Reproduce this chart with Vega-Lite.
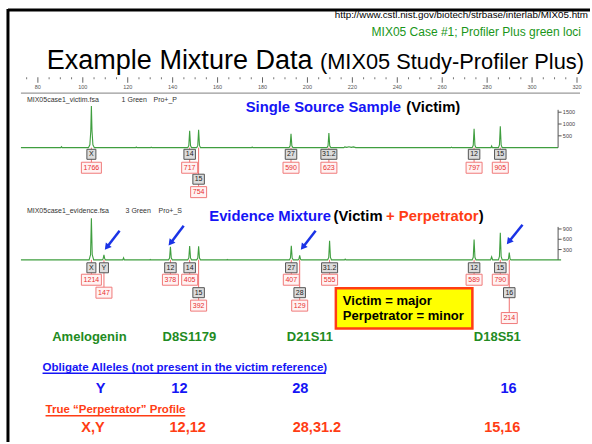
{
  "$schema": "https://vega.github.io/schema/vega-lite/v6.json",
  "width": 592,
  "height": 444,
  "autosize": {"type": "fit", "contains": "padding"},
  "padding": 0,
  "background": "white",
  "config": {"view": {"stroke": null}, "font": "Liberation Sans", "mark": {"font": "Liberation Sans"}, "text": {"font": "Liberation Sans"}},
  "datasets": {
    "lines": [
      {"kind": "border", "bp": 66.69, "bp2": 325.79, "row": 10, "row2": 10},
      {"kind": "border", "bp": 66.69, "bp2": 66.69, "row": 9, "row2": 444},
      {"kind": "axis", "bp": 72.46, "bp2": 321.35, "row": 93.5, "row2": 93.5},
      {"kind": "blue", "bp": 82.08, "bp2": 208.22, "row": 375, "row2": 375},
      {"kind": "red", "bp": 83.42, "bp2": 145.66, "row": 417.7, "row2": 417.7}
    ],
    "ticks": [
      {"bp": 75}, {"bp": 80}, {"bp": 85}, {"bp": 90}, {"bp": 95}, {"bp": 100}, {"bp": 105}, {"bp": 110}, {"bp": 115}, {"bp": 120},
      {"bp": 125}, {"bp": 130}, {"bp": 135}, {"bp": 140}, {"bp": 145}, {"bp": 150}, {"bp": 155}, {"bp": 160}, {"bp": 165}, {"bp": 170},
      {"bp": 175}, {"bp": 180}, {"bp": 185}, {"bp": 190}, {"bp": 195}, {"bp": 200}, {"bp": 205}, {"bp": 210}, {"bp": 215}, {"bp": 220},
      {"bp": 225}, {"bp": 230}, {"bp": 235}, {"bp": 240}, {"bp": 245}, {"bp": 250}, {"bp": 255}, {"bp": 260}, {"bp": 265}, {"bp": 270},
      {"bp": 275}, {"bp": 280}, {"bp": 285}, {"bp": 290}, {"bp": 295}, {"bp": 300}, {"bp": 305}, {"bp": 310}, {"bp": 315}, {"bp": 320}
    ],
    "trace1": [
      {"bp": 72.46, "rfu": 0},
      {"bp": 90.2, "rfu": 0}, {"bp": 90.51, "rfu": 40}, {"bp": 90.8, "rfu": 0},
      {"bp": 102.5, "rfu": 0}, {"bp": 103.15, "rfu": 120}, {"bp": 103.55, "rfu": 700}, {"bp": 103.82, "rfu": 1766}, {"bp": 104.1, "rfu": 700}, {"bp": 104.5, "rfu": 120}, {"bp": 105.15, "rfu": 0},
      {"bp": 123.5, "rfu": 0}, {"bp": 123.79, "rfu": 25}, {"bp": 124.1, "rfu": 0},
      {"bp": 130.15, "rfu": 0}, {"bp": 130.44, "rfu": 20}, {"bp": 130.75, "rfu": 0},
      {"bp": 146.72, "rfu": 0}, {"bp": 147.19, "rfu": 90}, {"bp": 147.57, "rfu": 717}, {"bp": 147.95, "rfu": 90}, {"bp": 148.42, "rfu": 0},
      {"bp": 150.71, "rfu": 0}, {"bp": 151.18, "rfu": 95}, {"bp": 151.56, "rfu": 754}, {"bp": 151.94, "rfu": 95}, {"bp": 152.41, "rfu": 0},
      {"bp": 175.1, "rfu": 0}, {"bp": 175.39, "rfu": 25}, {"bp": 175.7, "rfu": 0},
      {"bp": 191.84, "rfu": 0}, {"bp": 192.31, "rfu": 75}, {"bp": 192.69, "rfu": 590}, {"bp": 193.07, "rfu": 75}, {"bp": 193.54, "rfu": 0},
      {"bp": 208.7, "rfu": 0}, {"bp": 209.17, "rfu": 80}, {"bp": 209.55, "rfu": 623}, {"bp": 209.93, "rfu": 80}, {"bp": 210.4, "rfu": 0},
      {"bp": 216.2, "rfu": 0}, {"bp": 216.6, "rfu": 30}, {"bp": 217.5, "rfu": 10}, {"bp": 218.5, "rfu": 35}, {"bp": 219.5, "rfu": 10}, {"bp": 220.5, "rfu": 30}, {"bp": 221.5, "rfu": 0},
      {"bp": 263.8, "rfu": 0}, {"bp": 264.12, "rfu": 20}, {"bp": 264.45, "rfu": 0},
      {"bp": 273.34, "rfu": 0}, {"bp": 273.81, "rfu": 100}, {"bp": 274.19, "rfu": 797}, {"bp": 274.57, "rfu": 100}, {"bp": 275.04, "rfu": 0},
      {"bp": 281.7, "rfu": 0}, {"bp": 282.0, "rfu": 70}, {"bp": 282.3, "rfu": 0},
      {"bp": 285.01, "rfu": 0}, {"bp": 285.48, "rfu": 115}, {"bp": 285.86, "rfu": 905}, {"bp": 286.24, "rfu": 115}, {"bp": 286.71, "rfu": 0},
      {"bp": 311.59, "rfu": 0}
    ],
    "trace2": [
      {"bp": 72.46, "rfu": 0},
      {"bp": 102.8, "rfu": 0}, {"bp": 103.45, "rfu": 150}, {"bp": 103.82, "rfu": 1214}, {"bp": 104.2, "rfu": 150}, {"bp": 104.85, "rfu": 0},
      {"bp": 108.65, "rfu": 0}, {"bp": 109.05, "rfu": 30}, {"bp": 109.41, "rfu": 147}, {"bp": 109.77, "rfu": 30}, {"bp": 110.15, "rfu": 0},
      {"bp": 117.8, "rfu": 0}, {"bp": 118.15, "rfu": 60}, {"bp": 118.5, "rfu": 0},
      {"bp": 129.7, "rfu": 0}, {"bp": 130.0, "rfu": 15}, {"bp": 130.3, "rfu": 0},
      {"bp": 138.16, "rfu": 0}, {"bp": 138.63, "rfu": 50}, {"bp": 139.01, "rfu": 378}, {"bp": 139.39, "rfu": 50}, {"bp": 139.86, "rfu": 0},
      {"bp": 146.72, "rfu": 0}, {"bp": 147.19, "rfu": 55}, {"bp": 147.57, "rfu": 405}, {"bp": 147.95, "rfu": 55}, {"bp": 148.42, "rfu": 0},
      {"bp": 150.71, "rfu": 0}, {"bp": 151.18, "rfu": 50}, {"bp": 151.56, "rfu": 392}, {"bp": 151.94, "rfu": 50}, {"bp": 152.41, "rfu": 0},
      {"bp": 164.0, "rfu": 0}, {"bp": 164.3, "rfu": 15}, {"bp": 164.6, "rfu": 0},
      {"bp": 191.97, "rfu": 0}, {"bp": 192.44, "rfu": 55}, {"bp": 192.82, "rfu": 407}, {"bp": 193.2, "rfu": 55}, {"bp": 193.67, "rfu": 0},
      {"bp": 195.8, "rfu": 0}, {"bp": 196.2, "rfu": 20}, {"bp": 196.55, "rfu": 129}, {"bp": 196.9, "rfu": 20}, {"bp": 197.3, "rfu": 0},
      {"bp": 209.01, "rfu": 0}, {"bp": 209.48, "rfu": 70}, {"bp": 209.86, "rfu": 555}, {"bp": 210.24, "rfu": 70}, {"bp": 210.71, "rfu": 0},
      {"bp": 216.5, "rfu": 0}, {"bp": 216.8, "rfu": 20}, {"bp": 217.1, "rfu": 0},
      {"bp": 273.34, "rfu": 0}, {"bp": 273.81, "rfu": 75}, {"bp": 274.19, "rfu": 589}, {"bp": 274.57, "rfu": 75}, {"bp": 275.04, "rfu": 0},
      {"bp": 281.55, "rfu": 0}, {"bp": 282.0, "rfu": 90}, {"bp": 282.45, "rfu": 0},
      {"bp": 285.01, "rfu": 0}, {"bp": 285.48, "rfu": 100}, {"bp": 285.86, "rfu": 790}, {"bp": 286.24, "rfu": 100}, {"bp": 286.71, "rfu": 0},
      {"bp": 289.1, "rfu": 0}, {"bp": 289.5, "rfu": 30}, {"bp": 289.85, "rfu": 214}, {"bp": 290.2, "rfu": 30}, {"bp": 290.6, "rfu": 0},
      {"bp": 312.92, "rfu": 0}
    ],
    "rfu1": [{"rfu": 500}, {"rfu": 1000}, {"rfu": 1500}],
    "rfu2": [{"rfu": 300}, {"rfu": 600}, {"rfu": 900}],
    "alleles": [
      {"trace": 1, "label": "X", "bp": 103.82, "rfu": 1766, "base": 148.3, "gy": 155, "ry": 168.5},
      {"trace": 1, "label": "14", "bp": 147.57, "rfu": 717, "base": 148.3, "gy": 155, "ry": 168.5},
      {"trace": 1, "label": "15", "bp": 151.56, "rfu": 754, "base": 148.3, "gy": 180, "ry": 193},
      {"trace": 1, "label": "27", "bp": 192.69, "rfu": 590, "base": 148.3, "gy": 155, "ry": 168.5},
      {"trace": 1, "label": "31.2", "bp": 209.55, "rfu": 623, "base": 148.3, "gy": 155, "ry": 168.5},
      {"trace": 1, "label": "12", "bp": 274.19, "rfu": 797, "base": 148.3, "gy": 155, "ry": 168.5},
      {"trace": 1, "label": "15", "bp": 285.86, "rfu": 905, "base": 148.3, "gy": 155, "ry": 168.5},
      {"trace": 2, "label": "X", "bp": 103.82, "rfu": 1214, "base": 261, "gy": 269, "ry": 281},
      {"trace": 2, "label": "Y", "bp": 109.41, "rfu": 147, "base": 261, "gy": 269, "ry": 294},
      {"trace": 2, "label": "12", "bp": 139.01, "rfu": 378, "base": 261, "gy": 269, "ry": 281},
      {"trace": 2, "label": "14", "bp": 147.57, "rfu": 405, "base": 261, "gy": 269, "ry": 281},
      {"trace": 2, "label": "15", "bp": 151.56, "rfu": 392, "base": 261, "gy": 294, "ry": 307},
      {"trace": 2, "label": "27", "bp": 192.82, "rfu": 407, "base": 261, "gy": 269, "ry": 281},
      {"trace": 2, "label": "28", "bp": 196.55, "rfu": 129, "base": 261, "gy": 294, "ry": 307},
      {"trace": 2, "label": "31.2", "bp": 209.86, "rfu": 555, "base": 261, "gy": 269, "ry": 281},
      {"trace": 2, "label": "12", "bp": 274.19, "rfu": 589, "base": 261, "gy": 269, "ry": 281},
      {"trace": 2, "label": "15", "bp": 285.86, "rfu": 790, "base": 261, "gy": 269, "ry": 281},
      {"trace": 2, "label": "16", "bp": 289.85, "rfu": 214, "base": 261, "gy": 294, "ry": 319.5}
    ],
    "arrows": [
      {"bp": 116.38, "row": 231.7, "bp2": 110.97, "row2": 247.6},
      {"bp": 144.91, "row": 226.7, "bp2": 139.36, "row2": 243.3},
      {"bp": 203.65, "row": 231.7, "bp2": 198.23, "row2": 247.6},
      {"bp": 295.75, "row": 225.7, "bp2": 289.94, "row2": 242}
    ],
    "texts": [
      {"role": "url", "text": "http://www.cstl.nist.gov/biotech/strbase/interlab/MIX05.htm", "bp": 324.9, "row": 15.5},
      {"role": "sub", "text": "MIX05 Case #1; Profiler Plus green loci", "bp": 321.79, "row": 32},
      {"role": "title1", "text": "Example Mixture Data", "bp": 83.99, "row": 69},
      {"role": "title2", "text": "(MIX05 Study-Profiler Plus)", "bp": 205.56, "row": 69},
      {"role": "hdr", "text": "MIX05case1_victim.fsa", "bp": 75.12, "row": 100},
      {"role": "hdr", "text": "1 Green", "bp": 117.27, "row": 100},
      {"role": "hdr", "text": "Pro+_P", "bp": 131.46, "row": 100},
      {"role": "hdr", "text": "MIX05case1_evidence.fsa", "bp": 75.12, "row": 212},
      {"role": "hdr", "text": "3 Green", "bp": 119.04, "row": 212},
      {"role": "hdr", "text": "Pro+_S", "bp": 133.68, "row": 212},
      {"role": "bhead", "text": "Single Source Sample", "bp": 172.5, "row": 108},
      {"role": "khead", "text": "(Victim)", "bp": 244.0, "row": 108},
      {"role": "bhead", "text": "Evidence Mixture", "bp": 156.3, "row": 217.7},
      {"role": "khead", "text": "(Victim", "bp": 211.6, "row": 217.7},
      {"role": "rhead", "text": "+ Perpetrator", "bp": 235.0, "row": 217.7},
      {"role": "khead", "text": ")", "bp": 276.3, "row": 217.7},
      {"role": "box", "text": "Victim = major", "bp": 215.76, "row": 302.7},
      {"role": "box", "text": "Perpetrator = minor", "bp": 215.76, "row": 317.7},
      {"role": "locus", "text": "Amelogenin", "bp": 102.94, "row": 338.5},
      {"role": "locus", "text": "D8S1179", "bp": 147.44, "row": 338.5},
      {"role": "locus", "text": "D21S11", "bp": 201.12, "row": 338.5},
      {"role": "locus", "text": "D18S51", "bp": 284.52, "row": 338.5},
      {"role": "oblig", "text": "Obligate Alleles (not present in the victim reference)", "bp": 82.08, "row": 369.3},
      {"role": "bval", "text": "Y", "bp": 107.95, "row": 391},
      {"role": "bval", "text": "12", "bp": 143.0, "row": 391},
      {"role": "bval", "text": "28", "bp": 196.81, "row": 391},
      {"role": "bval", "text": "16", "bp": 289.54, "row": 391},
      {"role": "perp", "text": "True “Perpetrator” Profile", "bp": 83.42, "row": 411.7},
      {"role": "rval", "text": "X,Y", "bp": 104.53, "row": 430},
      {"role": "rval", "text": "12,12", "bp": 146.68, "row": 430},
      {"role": "rval", "text": "28,31.2", "bp": 204.22, "row": 430},
      {"role": "rval", "text": "15,16", "bp": 286.74, "row": 430}
    ]
  },
  "resolve": {"scale": {"y": "independent"}},
  "layer": [
    {"data": {"name": "lines"}, "transform": [{"filter": "datum.kind == 'border'"}], "mark": {"type": "rule", "color": "#000000", "strokeWidth": 3},
     "encoding": {"x": {"field": "bp", "type": "quantitative", "scale": {"domain": [63.14, 325.79], "nice": false, "zero": false}, "axis": null}, "x2": {"field": "bp2"}, "y": {"field": "row", "type": "quantitative", "scale": {"domain": [0, 444], "reverse": true, "nice": false, "zero": false}, "axis": null}, "y2": {"field": "row2"}}},
    {"data": {"name": "lines"}, "transform": [{"filter": "datum.kind == 'axis'"}], "mark": {"type": "rule", "color": "#9a9a9a", "strokeWidth": 1.3},
     "encoding": {"x": {"field": "bp", "type": "quantitative", "scale": {"domain": [63.14, 325.79], "nice": false, "zero": false}, "axis": null}, "x2": {"field": "bp2"}, "y": {"field": "row", "type": "quantitative", "scale": {"domain": [0, 444], "reverse": true, "nice": false, "zero": false}, "axis": null}, "y2": {"field": "row2"}}},
    {"data": {"name": "lines"}, "transform": [{"filter": "datum.kind == 'blue' || datum.kind == 'red'"}], "mark": {"type": "rule", "strokeWidth": 1.4},
     "encoding": {"x": {"field": "bp", "type": "quantitative", "scale": {"domain": [63.14, 325.79], "nice": false, "zero": false}, "axis": null}, "x2": {"field": "bp2"}, "y": {"field": "row", "type": "quantitative", "scale": {"domain": [0, 444], "reverse": true, "nice": false, "zero": false}, "axis": null}, "y2": {"field": "row2"}, "color": {"field": "kind", "type": "nominal", "scale": {"domain": ["blue", "red"], "range": ["#1515f5", "#ff3d14"]}, "legend": null}}},
    {"data": {"name": "ticks"}, "transform": [{"filter": "datum.bp % 20 == 0"}], "mark": {"type": "tick", "orient": "vertical", "size": 5.5, "thickness": 1, "color": "#666666", "opacity": 1},
     "encoding": {"x": {"field": "bp", "type": "quantitative", "scale": {"domain": [63.14, 325.79], "nice": false, "zero": false}, "axis": null}, "y": {"datum": 80.25, "type": "quantitative", "scale": {"domain": [0, 444], "reverse": true, "nice": false, "zero": false}, "axis": null}}},
    {"data": {"name": "ticks"}, "transform": [{"filter": "datum.bp % 20 != 0"}], "mark": {"type": "tick", "orient": "vertical", "size": 2, "thickness": 1, "color": "#777777", "opacity": 1},
     "encoding": {"x": {"field": "bp", "type": "quantitative", "scale": {"domain": [63.14, 325.79], "nice": false, "zero": false}, "axis": null}, "y": {"datum": 78.5, "type": "quantitative", "scale": {"domain": [0, 444], "reverse": true, "nice": false, "zero": false}, "axis": null}}},
    {"data": {"name": "ticks"}, "transform": [{"filter": "datum.bp % 20 == 0"}], "mark": {"type": "text", "fontSize": 5.5, "color": "#555555", "baseline": "middle", "align": "center"},
     "encoding": {"x": {"field": "bp", "type": "quantitative", "scale": {"domain": [63.14, 325.79], "nice": false, "zero": false}, "axis": null}, "y": {"datum": 87, "type": "quantitative", "scale": {"domain": [0, 444], "reverse": true, "nice": false, "zero": false}, "axis": null}, "text": {"field": "bp", "type": "quantitative", "format": "d"}}},
    {
      "data": {"name": "trace1"},
      "encoding": {"y": {"field": "rfu", "type": "quantitative", "scale": {"domain": [-12458, 6248], "nice": false, "zero": false}, "axis": null}},
      "layer": [
        {"mark": {"type": "line", "color": "#3f9e3f", "strokeWidth": 1.1}, "encoding": {"x": {"field": "bp", "type": "quantitative", "scale": {"domain": [63.14, 325.79], "nice": false, "zero": false}, "axis": null}}},
        {"data": {"values": [{"bp": 311.59, "rfu": 0, "rfu2": 1600}]}, "mark": {"type": "rule", "color": "#555555", "strokeWidth": 1}, "encoding": {"x": {"field": "bp", "type": "quantitative", "scale": {"domain": [63.14, 325.79], "nice": false, "zero": false}, "axis": null}, "y2": {"field": "rfu2"}}},
        {"data": {"name": "rfu1"}, "mark": {"type": "tick", "orient": "horizontal", "size": 3.5, "thickness": 1, "color": "#555555", "opacity": 1}, "encoding": {"x": {"datum": 312.37, "type": "quantitative", "scale": {"domain": [63.14, 325.79], "nice": false, "zero": false}, "axis": null}}},
        {"data": {"name": "rfu1"}, "mark": {"type": "text", "fontSize": 5.5, "color": "#444444", "align": "left", "baseline": "middle"}, "encoding": {"x": {"datum": 313.7, "type": "quantitative", "scale": {"domain": [63.14, 325.79], "nice": false, "zero": false}, "axis": null}, "text": {"field": "rfu", "type": "quantitative", "format": "d"}}}
      ]
    },
    {
      "data": {"name": "trace2"},
      "encoding": {"y": {"field": "rfu", "type": "quantitative", "scale": {"domain": [-5312, 7577], "nice": false, "zero": false}, "axis": null}},
      "layer": [
        {"mark": {"type": "line", "color": "#3f9e3f", "strokeWidth": 1.1}, "encoding": {"x": {"field": "bp", "type": "quantitative", "scale": {"domain": [63.14, 325.79], "nice": false, "zero": false}, "axis": null}}},
        {"data": {"values": [{"bp": 311.59, "rfu": 0, "rfu2": 960}]}, "mark": {"type": "rule", "color": "#555555", "strokeWidth": 1}, "encoding": {"x": {"field": "bp", "type": "quantitative", "scale": {"domain": [63.14, 325.79], "nice": false, "zero": false}, "axis": null}, "y2": {"field": "rfu2"}}},
        {"data": {"name": "rfu2"}, "mark": {"type": "tick", "orient": "horizontal", "size": 3.5, "thickness": 1, "color": "#555555", "opacity": 1}, "encoding": {"x": {"datum": 312.37, "type": "quantitative", "scale": {"domain": [63.14, 325.79], "nice": false, "zero": false}, "axis": null}}},
        {"data": {"name": "rfu2"}, "mark": {"type": "text", "fontSize": 5.5, "color": "#444444", "align": "left", "baseline": "middle"}, "encoding": {"x": {"datum": 313.7, "type": "quantitative", "scale": {"domain": [63.14, 325.79], "nice": false, "zero": false}, "axis": null}, "text": {"field": "rfu", "type": "quantitative", "format": "d"}}}
      ]
    },
    {"data": {"name": "alleles"}, "mark": {"type": "rule", "color": "#f07070", "strokeWidth": 1},
     "encoding": {"x": {"field": "bp", "type": "quantitative", "scale": {"domain": [63.14, 325.79], "nice": false, "zero": false}, "axis": null}, "y": {"field": "base", "type": "quantitative", "scale": {"domain": [0, 444], "reverse": true, "nice": false, "zero": false}, "axis": null}, "y2": {"field": "ry"}}},
    {"data": {"name": "alleles"}, "transform": [{"filter": "length(datum.label) == 1"}], "mark": {"type": "rect", "fill": "#dcdcdc", "stroke": "#555555", "strokeWidth": 1, "xOffset": -4.5, "x2Offset": 4.5, "yOffset": -5, "y2Offset": 5},
     "encoding": {"x": {"field": "bp", "type": "quantitative", "scale": {"domain": [63.14, 325.79], "nice": false, "zero": false}, "axis": null}, "x2": {"field": "bp"}, "y": {"field": "gy", "type": "quantitative", "scale": {"domain": [0, 444], "reverse": true, "nice": false, "zero": false}, "axis": null}, "y2": {"field": "gy"}}},
    {"data": {"name": "alleles"}, "transform": [{"filter": "length(datum.label) == 2"}], "mark": {"type": "rect", "fill": "#dcdcdc", "stroke": "#555555", "strokeWidth": 1, "xOffset": -5.75, "x2Offset": 5.75, "yOffset": -5, "y2Offset": 5},
     "encoding": {"x": {"field": "bp", "type": "quantitative", "scale": {"domain": [63.14, 325.79], "nice": false, "zero": false}, "axis": null}, "x2": {"field": "bp"}, "y": {"field": "gy", "type": "quantitative", "scale": {"domain": [0, 444], "reverse": true, "nice": false, "zero": false}, "axis": null}, "y2": {"field": "gy"}}},
    {"data": {"name": "alleles"}, "transform": [{"filter": "length(datum.label) == 4"}], "mark": {"type": "rect", "fill": "#dcdcdc", "stroke": "#555555", "strokeWidth": 1, "xOffset": -8, "x2Offset": 8, "yOffset": -5, "y2Offset": 5},
     "encoding": {"x": {"field": "bp", "type": "quantitative", "scale": {"domain": [63.14, 325.79], "nice": false, "zero": false}, "axis": null}, "x2": {"field": "bp"}, "y": {"field": "gy", "type": "quantitative", "scale": {"domain": [0, 444], "reverse": true, "nice": false, "zero": false}, "axis": null}, "y2": {"field": "gy"}}},
    {"data": {"name": "alleles"}, "transform": [{"filter": "datum.rfu < 1000"}], "mark": {"type": "rect", "fill": "#fff3f3", "stroke": "#f07a7a", "strokeWidth": 1, "xOffset": -8, "x2Offset": 8, "yOffset": -5.5, "y2Offset": 5.5},
     "encoding": {"x": {"field": "bp", "type": "quantitative", "scale": {"domain": [63.14, 325.79], "nice": false, "zero": false}, "axis": null}, "x2": {"field": "bp"}, "y": {"field": "ry", "type": "quantitative", "scale": {"domain": [0, 444], "reverse": true, "nice": false, "zero": false}, "axis": null}, "y2": {"field": "ry"}}},
    {"data": {"name": "alleles"}, "transform": [{"filter": "datum.rfu >= 1000"}], "mark": {"type": "rect", "fill": "#fff3f3", "stroke": "#f07a7a", "strokeWidth": 1, "xOffset": -10, "x2Offset": 10, "yOffset": -5.5, "y2Offset": 5.5},
     "encoding": {"x": {"field": "bp", "type": "quantitative", "scale": {"domain": [63.14, 325.79], "nice": false, "zero": false}, "axis": null}, "x2": {"field": "bp"}, "y": {"field": "ry", "type": "quantitative", "scale": {"domain": [0, 444], "reverse": true, "nice": false, "zero": false}, "axis": null}, "y2": {"field": "ry"}}},
    {"data": {"name": "alleles"}, "mark": {"type": "text", "fontSize": 7, "color": "#222222", "align": "center", "baseline": "middle"},
     "encoding": {"x": {"field": "bp", "type": "quantitative", "scale": {"domain": [63.14, 325.79], "nice": false, "zero": false}, "axis": null}, "y": {"field": "gy", "type": "quantitative", "scale": {"domain": [0, 444], "reverse": true, "nice": false, "zero": false}, "axis": null}, "text": {"field": "label", "type": "nominal"}}},
    {"data": {"name": "alleles"}, "mark": {"type": "text", "fontSize": 7, "color": "#e83030", "align": "center", "baseline": "middle"},
     "encoding": {"x": {"field": "bp", "type": "quantitative", "scale": {"domain": [63.14, 325.79], "nice": false, "zero": false}, "axis": null}, "y": {"field": "ry", "type": "quantitative", "scale": {"domain": [0, 444], "reverse": true, "nice": false, "zero": false}, "axis": null}, "text": {"field": "rfu", "type": "quantitative", "format": "d"}}},
    {"data": {"name": "arrows"}, "mark": {"type": "rule", "color": "#1a33e6", "strokeWidth": 2.5},
     "encoding": {"x": {"field": "bp", "type": "quantitative", "scale": {"domain": [63.14, 325.79], "nice": false, "zero": false}, "axis": null}, "x2": {"field": "bp2"}, "y": {"field": "row", "type": "quantitative", "scale": {"domain": [0, 444], "reverse": true, "nice": false, "zero": false}, "axis": null}, "y2": {"field": "row2"}}},
    {"data": {"name": "arrows"}, "mark": {"type": "point", "shape": "triangle", "angle": 218, "size": 55, "filled": true, "color": "#1a33e6", "opacity": 1},
     "encoding": {"x": {"field": "bp2", "type": "quantitative", "scale": {"domain": [63.14, 325.79], "nice": false, "zero": false}, "axis": null}, "y": {"field": "row2", "type": "quantitative", "scale": {"domain": [0, 444], "reverse": true, "nice": false, "zero": false}, "axis": null}}},
    {"data": {"values": [{"bp": 212.65, "bp2": 273.43, "row": 289.5, "row2": 330}]}, "mark": {"type": "rect", "fill": "#ffff00", "stroke": "#ff3d14", "strokeWidth": 2.5},
     "encoding": {"x": {"field": "bp", "type": "quantitative", "scale": {"domain": [63.14, 325.79], "nice": false, "zero": false}, "axis": null}, "x2": {"field": "bp2"}, "y": {"field": "row", "type": "quantitative", "scale": {"domain": [0, 444], "reverse": true, "nice": false, "zero": false}, "axis": null}, "y2": {"field": "row2"}}},
    {"data": {"name": "texts"}, "transform": [{"filter": "datum.role == 'url'"}], "mark": {"type": "text", "fontSize": 9.8, "color": "#000000", "align": "right", "baseline": "middle"},
     "encoding": {"x": {"field": "bp", "type": "quantitative", "scale": {"domain": [63.14, 325.79], "nice": false, "zero": false}, "axis": null}, "y": {"field": "row", "type": "quantitative", "scale": {"domain": [0, 444], "reverse": true, "nice": false, "zero": false}, "axis": null}, "text": {"field": "text"}}},
    {"data": {"name": "texts"}, "transform": [{"filter": "datum.role == 'sub'"}], "mark": {"type": "text", "fontSize": 12, "color": "#1a961a", "align": "right", "baseline": "middle"},
     "encoding": {"x": {"field": "bp", "type": "quantitative", "scale": {"domain": [63.14, 325.79], "nice": false, "zero": false}, "axis": null}, "y": {"field": "row", "type": "quantitative", "scale": {"domain": [0, 444], "reverse": true, "nice": false, "zero": false}, "axis": null}, "text": {"field": "text"}}},
    {"data": {"name": "texts"}, "transform": [{"filter": "datum.role == 'title1'"}], "mark": {"type": "text", "fontSize": 27, "color": "#000000", "align": "left", "baseline": "alphabetic"},
     "encoding": {"x": {"field": "bp", "type": "quantitative", "scale": {"domain": [63.14, 325.79], "nice": false, "zero": false}, "axis": null}, "y": {"field": "row", "type": "quantitative", "scale": {"domain": [0, 444], "reverse": true, "nice": false, "zero": false}, "axis": null}, "text": {"field": "text"}}},
    {"data": {"name": "texts"}, "transform": [{"filter": "datum.role == 'title2'"}], "mark": {"type": "text", "fontSize": 21.8, "color": "#000000", "align": "left", "baseline": "alphabetic"},
     "encoding": {"x": {"field": "bp", "type": "quantitative", "scale": {"domain": [63.14, 325.79], "nice": false, "zero": false}, "axis": null}, "y": {"field": "row", "type": "quantitative", "scale": {"domain": [0, 444], "reverse": true, "nice": false, "zero": false}, "axis": null}, "text": {"field": "text"}}},
    {"data": {"name": "texts"}, "transform": [{"filter": "datum.role == 'hdr'"}], "mark": {"type": "text", "fontSize": 7, "color": "#333333", "align": "left", "baseline": "middle"},
     "encoding": {"x": {"field": "bp", "type": "quantitative", "scale": {"domain": [63.14, 325.79], "nice": false, "zero": false}, "axis": null}, "y": {"field": "row", "type": "quantitative", "scale": {"domain": [0, 444], "reverse": true, "nice": false, "zero": false}, "axis": null}, "text": {"field": "text"}}},
    {"data": {"name": "texts"}, "transform": [{"filter": "datum.role == 'bhead'"}], "mark": {"type": "text", "fontSize": 14.8, "fontWeight": "bold", "color": "#1515f5", "align": "left", "baseline": "middle"},
     "encoding": {"x": {"field": "bp", "type": "quantitative", "scale": {"domain": [63.14, 325.79], "nice": false, "zero": false}, "axis": null}, "y": {"field": "row", "type": "quantitative", "scale": {"domain": [0, 444], "reverse": true, "nice": false, "zero": false}, "axis": null}, "text": {"field": "text"}}},
    {"data": {"name": "texts"}, "transform": [{"filter": "datum.role == 'khead'"}], "mark": {"type": "text", "fontSize": 14.8, "fontWeight": "bold", "color": "#000000", "align": "left", "baseline": "middle"},
     "encoding": {"x": {"field": "bp", "type": "quantitative", "scale": {"domain": [63.14, 325.79], "nice": false, "zero": false}, "axis": null}, "y": {"field": "row", "type": "quantitative", "scale": {"domain": [0, 444], "reverse": true, "nice": false, "zero": false}, "axis": null}, "text": {"field": "text"}}},
    {"data": {"name": "texts"}, "transform": [{"filter": "datum.role == 'rhead'"}], "mark": {"type": "text", "fontSize": 14.8, "fontWeight": "bold", "color": "#ff3d14", "align": "left", "baseline": "middle"},
     "encoding": {"x": {"field": "bp", "type": "quantitative", "scale": {"domain": [63.14, 325.79], "nice": false, "zero": false}, "axis": null}, "y": {"field": "row", "type": "quantitative", "scale": {"domain": [0, 444], "reverse": true, "nice": false, "zero": false}, "axis": null}, "text": {"field": "text"}}},
    {"data": {"name": "texts"}, "transform": [{"filter": "datum.role == 'box'"}], "mark": {"type": "text", "fontSize": 13, "fontWeight": "bold", "color": "#000000", "align": "left", "baseline": "middle"},
     "encoding": {"x": {"field": "bp", "type": "quantitative", "scale": {"domain": [63.14, 325.79], "nice": false, "zero": false}, "axis": null}, "y": {"field": "row", "type": "quantitative", "scale": {"domain": [0, 444], "reverse": true, "nice": false, "zero": false}, "axis": null}, "text": {"field": "text"}}},
    {"data": {"name": "texts"}, "transform": [{"filter": "datum.role == 'locus'"}], "mark": {"type": "text", "fontSize": 13, "fontWeight": "bold", "color": "#228b22", "align": "center", "baseline": "middle"},
     "encoding": {"x": {"field": "bp", "type": "quantitative", "scale": {"domain": [63.14, 325.79], "nice": false, "zero": false}, "axis": null}, "y": {"field": "row", "type": "quantitative", "scale": {"domain": [0, 444], "reverse": true, "nice": false, "zero": false}, "axis": null}, "text": {"field": "text"}}},
    {"data": {"name": "texts"}, "transform": [{"filter": "datum.role == 'oblig'"}], "mark": {"type": "text", "fontSize": 11.5, "fontWeight": "bold", "color": "#1515f5", "align": "left", "baseline": "middle"},
     "encoding": {"x": {"field": "bp", "type": "quantitative", "scale": {"domain": [63.14, 325.79], "nice": false, "zero": false}, "axis": null}, "y": {"field": "row", "type": "quantitative", "scale": {"domain": [0, 444], "reverse": true, "nice": false, "zero": false}, "axis": null}, "text": {"field": "text"}}},
    {"data": {"name": "texts"}, "transform": [{"filter": "datum.role == 'bval'"}], "mark": {"type": "text", "fontSize": 14.5, "fontWeight": "bold", "color": "#1515f5", "align": "center", "baseline": "middle"},
     "encoding": {"x": {"field": "bp", "type": "quantitative", "scale": {"domain": [63.14, 325.79], "nice": false, "zero": false}, "axis": null}, "y": {"field": "row", "type": "quantitative", "scale": {"domain": [0, 444], "reverse": true, "nice": false, "zero": false}, "axis": null}, "text": {"field": "text"}}},
    {"data": {"name": "texts"}, "transform": [{"filter": "datum.role == 'perp'"}], "mark": {"type": "text", "fontSize": 11.5, "fontWeight": "bold", "color": "#ff3d14", "align": "left", "baseline": "middle"},
     "encoding": {"x": {"field": "bp", "type": "quantitative", "scale": {"domain": [63.14, 325.79], "nice": false, "zero": false}, "axis": null}, "y": {"field": "row", "type": "quantitative", "scale": {"domain": [0, 444], "reverse": true, "nice": false, "zero": false}, "axis": null}, "text": {"field": "text"}}},
    {"data": {"name": "texts"}, "transform": [{"filter": "datum.role == 'rval'"}], "mark": {"type": "text", "fontSize": 14.5, "fontWeight": "bold", "color": "#ff3d14", "align": "center", "baseline": "middle"},
     "encoding": {"x": {"field": "bp", "type": "quantitative", "scale": {"domain": [63.14, 325.79], "nice": false, "zero": false}, "axis": null}, "y": {"field": "row", "type": "quantitative", "scale": {"domain": [0, 444], "reverse": true, "nice": false, "zero": false}, "axis": null}, "text": {"field": "text"}}}
  ]
}
